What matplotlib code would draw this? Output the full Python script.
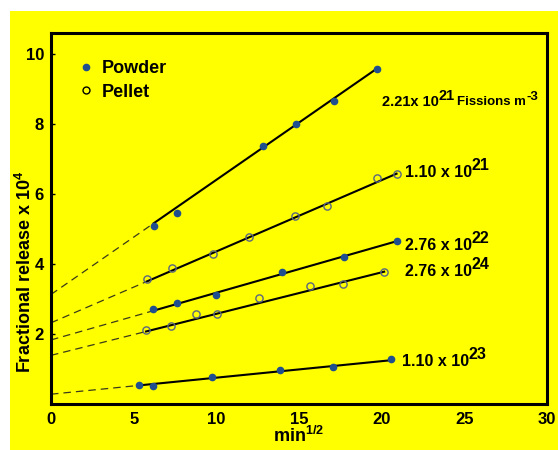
import matplotlib
matplotlib.use("Agg")
import matplotlib.pyplot as plt
from matplotlib.patches import Rectangle
from matplotlib.lines import Line2D
import numpy as np

plt.rcParams['font.family'] = ['Liberation Sans', 'DejaVu Sans']
plt.rcParams['mathtext.fontset'] = 'custom'
plt.rcParams['mathtext.bf'] = 'Liberation Sans:bold'
plt.rcParams['mathtext.rm'] = 'Liberation Sans:bold'
plt.rcParams['mathtext.default'] = 'bf'

YELLOW = "#ffff00"

############################
# data
############################
# 2.21e21 (powder)
s1_x = [6.2, 7.6, 12.8, 14.8, 17.1, 19.7]
s1_y = [5.09, 5.47, 7.38, 8.00, 8.67, 9.58]
# 1.10e21 (pellet)
s2_x = [5.8, 7.3, 9.8, 12.0, 14.75, 16.7, 19.7, 20.9]
s2_y = [3.57, 3.88, 4.29, 4.76, 5.36, 5.66, 6.45, 6.58]
# 2.76e22 (powder)
s3_x = [6.15, 7.6, 10.0, 13.95, 17.75, 20.9]
s3_y = [2.72, 2.89, 3.12, 3.76, 4.19, 4.65]
# 2.76e24 (pellet)
s4_x = [5.75, 7.25, 8.75, 10.05, 12.6, 15.65, 17.65, 20.15]
s4_y = [2.11, 2.23, 2.56, 2.57, 3.02, 3.37, 3.44, 3.78]
# 1.10e23 (powder)
s5_x = [5.35, 6.15, 9.75, 13.85, 17.05, 20.55]
s5_y = [0.55, 0.52, 0.78, 0.97, 1.06, 1.28]

series_x = [s1_x, s2_x, s3_x, s4_x, s5_x]
series_y = [s1_y, s2_y, s3_y, s4_y, s5_y]
series_kind = ["powder", "pellet", "powder", "pellet", "powder"]

# line through each set: value at x=0 (dashed extrapolation) and at last point
line_y0 = [3.13, 2.32, 1.83, 1.39, 0.28]
line_yend = [9.58, 6.58, 4.65, 3.78, 1.25]

# labels: (base, exponent, tail, tail exponent), position, size
label_text = [
    ("2.21x 10", "21", "Fissions m", "-3"),
    ("1.10 x 10", "21", "", ""),
    ("2.76 x 10", "22", "", ""),
    ("2.76 x 10", "24", "", ""),
    ("1.10 x 10", "23", "", ""),
]
label_x = [20.0, 21.4, 21.4, 21.4, 21.2]
label_y = [8.62, 6.62, 4.53, 3.80, 1.22]
label_size = [10.5, 11.5, 11.5, 11.5, 11.5]

x_ticks = [0, 5, 10, 15, 20, 25, 30]
y_ticks = [2, 4, 6, 8, 10]

fig = plt.figure(figsize=(5.58, 4.5), dpi=100)
fig.patch.set_facecolor(YELLOW)
# white margin strips on top and left of the scanned page
fig.patches.append(Rectangle((0, 439 / 450), 1, 11 / 450, transform=fig.transFigure,
                             facecolor="white", edgecolor="none", zorder=-10))
fig.patches.append(Rectangle((0, 0), 10 / 558, 1, transform=fig.transFigure,
                             facecolor="white", edgecolor="none", zorder=-10))

ax = fig.add_axes([51 / 558, 1 - 404 / 450, 496 / 558, 371 / 450])
ax.set_facecolor(YELLOW)

for xs, ys, kind, y0, yend in zip(series_x, series_y, series_kind, line_y0, line_yend):
    xs = np.array(xs)
    slope = (yend - y0) / xs[-1]
    # dashed extrapolation back to zero
    ax.plot([0, xs[0]], [y0, y0 + slope * xs[0]], color="#3a3a1a", lw=0.9,
            dashes=(6, 4), zorder=2)
    # solid fit
    ax.plot([xs[0], xs[-1]], [y0 + slope * xs[0], yend], color="black",
            lw=1.5, zorder=3)
    if kind == "powder":
        ax.plot(xs, ys, "o", ms=4.5, mfc="#1f4f8f", mec="#1f4f8f", zorder=4)
    else:
        ax.plot(xs, ys, "o", ms=5.2, mfc="none", mec="#5a6680", mew=1.0, zorder=4)

for (base, sup, tail, tsup), lx, ly, fs in zip(label_text, label_x, label_y, label_size):
    t = ax.text(lx, ly, base, fontsize=fs, fontweight="bold", va="center", ha="left")
    s = ax.annotate(sup, xy=(1.0, 0.45), xycoords=t, fontsize=fs,
                    fontweight="bold", va="bottom", ha="left")
    if tail:
        t2 = ax.annotate(tail, xy=(1.0, 0.5), xycoords=(s, t), xytext=(2, 0),
                         textcoords="offset points", fontsize=fs - 1,
                         fontweight="bold", va="center", ha="left")
        ax.annotate(tsup, xy=(1.0, 0.45), xycoords=t2, fontsize=fs - 1,
                    fontweight="bold", va="bottom", ha="left")

ax.set_xlim(0, 30)
ax.set_ylim(0, 10.6)
ax.set_xticks(x_ticks)
ax.set_yticks(y_ticks)
ax.tick_params(axis="both", direction="in", length=3, width=1, labelsize=12)
ax.tick_params(axis="x", length=0, pad=6)
ax.tick_params(axis="y", pad=5)
for lab in ax.get_xticklabels() + ax.get_yticklabels():
    lab.set_fontweight("bold")
for sp in ax.spines.values():
    sp.set_linewidth(2.2)

handles = [
    Line2D([], [], marker="o", ls="none", ms=4.5, mfc="#1f4f8f", mec="#1f4f8f"),
    Line2D([], [], marker="o", ls="none", ms=5, mfc=YELLOW, mec="black", mew=1.0),
]
leg = ax.legend(handles, ["Powder", "Pellet"], loc="upper left",
                bbox_to_anchor=(0.015, 0.97), frameon=False, handletextpad=0.3,
                handlelength=1.2, labelspacing=0.35,
                prop={"size": 13, "weight": "bold"})

fig.text(25 / 558, 1 - 272 / 450, r"Fractional release x 10$^{4}$",
         rotation=90, fontsize=13, fontweight="bold", ha="center", va="center")
fig.text(299 / 558, 1 - 436 / 450, r"min$^{1/2}$", fontsize=13,
         fontweight="bold", ha="center", va="center")

fig.savefig("out.png", dpi=100, facecolor=fig.get_facecolor())
